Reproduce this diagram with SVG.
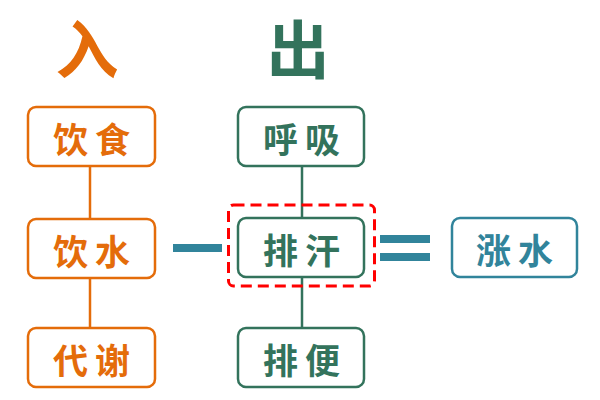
<svg xmlns="http://www.w3.org/2000/svg" width="600" height="400" viewBox="0 0 600 400">
<style>
.box{fill:#fff;stroke-width:2.5}
.o{stroke:#E46C0A}
.g{stroke:#33735C}
.t{stroke:#31849B}
.lbl{font-family:"Noto Sans CJK SC","Noto Sans",sans-serif;font-weight:bold;font-size:35px;letter-spacing:7px;text-anchor:middle;dominant-baseline:central}
.head{font-family:"Noto Sans CJK SC","Noto Sans",sans-serif;font-weight:bold;font-size:63px;text-anchor:middle}
.ot{fill:#E46C0A}.gt{fill:#33735C}.tt{fill:#31849B}
.line{stroke-width:2.5;fill:none}
</style>
<rect width="600" height="400" fill="#fff"/>
<g id="connectors">
<line class="line o" x1="90" y1="166" x2="90" y2="219"/>
<line class="line o" x1="90" y1="278" x2="90" y2="328"/>
<line class="line g" x1="302" y1="166" x2="302" y2="387"/>
<rect x="173" y="244" width="49" height="8" fill="#31849B"/>
<rect x="380" y="235" width="50" height="8" fill="#31849B"/>
<rect x="380" y="253" width="50" height="8" fill="#31849B"/>
</g>
<g id="title-in"><text class="head ot" x="87" y="73">入</text></g>
<g id="title-out"><text class="head gt" x="298" y="73">出</text></g>
<g id="yinshi"><rect class="box o" x="28" y="107" width="127" height="59" rx="8"/><text class="lbl ot" x="95" y="137">饮食</text></g>
<g id="yinshui"><rect class="box o" x="28" y="219" width="127" height="59" rx="8"/><text class="lbl ot" x="95" y="249">饮水</text></g>
<g id="daixie"><rect class="box o" x="28" y="328" width="127" height="59" rx="8"/><text class="lbl ot" x="95" y="358">代谢</text></g>
<g id="huxi"><rect class="box g" x="238" y="107" width="126" height="59" rx="8"/><text class="lbl gt" x="305" y="137">呼吸</text></g>
<g id="paihan"><rect class="box g" x="238" y="218" width="126" height="59" rx="8"/><text class="lbl gt" x="305" y="248">排汗</text></g>
<g id="paibian"><rect class="box g" x="238" y="328" width="126" height="59" rx="8"/><text class="lbl gt" x="305" y="358">排便</text></g>
<g id="zhangshui"><rect class="box t" x="452" y="218" width="125" height="59" rx="8"/><text class="lbl tt" x="518" y="248">涨水</text></g>
<g id="highlight"><rect x="228.5" y="205" width="146" height="81" rx="5" fill="none" stroke="#FF0000" stroke-width="3" stroke-dasharray="11 6"/></g>
</svg>
